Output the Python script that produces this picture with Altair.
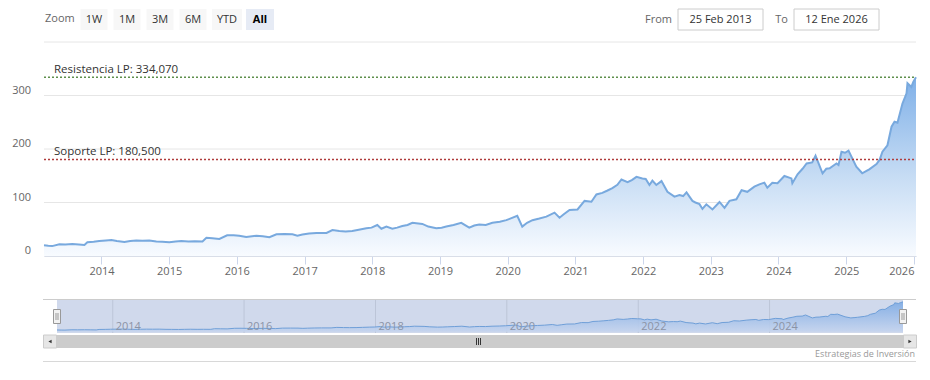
import altair as alt
import pandas as pd

# ---------------- data ----------------
dates = [
    "2013-02-25", "2013-03-20", "2013-04-10", "2013-05-19", "2013-06-20", "2013-07-28", "2013-09-01", "2013-10-01", "2013-10-17", "2013-11-20", "2013-12-20",
    "2014-01-25", "2014-02-24", "2014-03-25", "2014-05-05", "2014-06-05", "2014-07-08", "2014-08-10", "2014-09-16", "2014-10-24", "2014-11-25",
    "2015-01-02", "2015-02-05", "2015-03-08", "2015-04-15", "2015-05-20", "2015-06-30", "2015-07-21", "2015-08-22", "2015-09-29", "2015-11-10", "2015-12-15",
    "2016-01-14", "2016-02-21", "2016-04-16", "2016-05-20", "2016-06-25", "2016-08-02", "2016-09-15", "2016-10-27", "2016-11-23", "2016-12-20",
    "2017-01-25", "2017-03-06", "2017-04-29", "2017-05-31", "2017-07-07", "2017-08-10", "2017-09-15", "2017-10-20", "2017-11-30", "2017-12-28",
    "2018-01-28", "2018-02-19", "2018-03-18", "2018-04-19", "2018-05-15", "2018-06-12", "2018-07-10", "2018-08-05", "2018-09-28", "2018-10-30", "2018-12-12",
    "2019-01-10", "2019-02-04", "2019-03-15", "2019-04-26", "2019-06-08", "2019-07-05", "2019-08-01", "2019-09-05", "2019-10-11", "2019-11-20", "2019-12-25",
    "2020-02-22", "2020-03-20", "2020-04-15", "2020-05-14", "2020-06-20", "2020-07-28", "2020-09-10", "2020-10-07", "2020-10-30", "2020-11-30",
    "2021-01-12", "2021-02-19", "2021-03-28", "2021-04-24", "2021-05-26", "2021-06-20", "2021-07-19", "2021-08-15", "2021-09-06", "2021-10-09", "2021-11-01", "2021-11-26", "2021-12-28",
    "2022-01-15", "2022-02-04", "2022-02-20", "2022-03-13", "2022-04-10", "2022-05-12", "2022-06-19", "2022-07-16", "2022-08-05", "2022-08-23", "2022-09-24", "2022-10-10", "2022-11-01", "2022-11-17", "2022-12-08",
    "2023-01-10", "2023-02-17", "2023-03-16", "2023-04-12", "2023-05-19", "2023-06-16", "2023-07-17", "2023-08-24", "2023-09-20", "2023-10-17", "2023-11-02", "2023-11-29", "2023-12-27",
    "2024-02-02", "2024-03-11", "2024-03-16", "2024-04-13", "2024-05-10", "2024-06-01", "2024-07-01", "2024-07-19", "2024-08-26", "2024-09-15", "2024-10-03", "2024-11-09", "2024-11-20", "2024-12-06", "2024-12-25",
    "2025-01-13", "2025-02-24", "2025-03-28", "2025-04-15", "2025-05-05", "2025-06-13", "2025-06-30", "2025-07-15", "2025-08-11", "2025-09-02", "2025-09-18", "2025-10-04", "2025-10-31", "2025-11-22", "2025-11-27", "2025-12-18", "2025-12-29", "2026-01-12",
]
closes = [
    20, 19, 18.5, 22, 21.5, 22.4, 21.5, 20.5, 25.6, 26.5, 28,
    29, 30, 28, 26, 28, 29, 28.5, 29, 27, 26.5,
    25.6, 27, 28, 27, 27.5, 27, 34, 33, 32, 38.6, 39,
    38, 35.5, 38, 37, 35, 40.5, 41, 40.5, 38, 40,
    42, 43, 43, 48.6, 46.7, 46, 46.7, 49, 51.7, 53,
    58, 51, 55, 51, 53, 56, 58, 62, 60, 55, 51.7,
    53, 55, 58, 62, 53, 57, 59, 58, 62, 64, 67,
    75, 55, 62, 67, 70, 73.5, 81, 71.6, 78, 86,
    87, 103, 101.5, 115, 118, 122, 127, 133, 143, 138, 142, 148, 145,
    144, 132.7, 140.8, 132.7, 140, 120, 111, 114, 112, 119, 103, 100, 97, 88, 96.6,
    87, 101, 90, 103, 106, 123, 120, 129.5, 134, 137, 127.7, 137, 136,
    149.5, 145, 136, 152.7, 163, 173, 175, 187.5, 154.6, 163, 164, 173, 170, 195, 193,
    197, 167, 154.6, 158, 162, 172, 180, 195, 207, 241.7, 251, 249, 285, 304, 323, 316, 326, 334.07,
]
assert len(dates) == len(closes)

axis_years = list(range(2014, 2027))
nav_years = [2014, 2016, 2018, 2020, 2022, 2024]
y_tick_values = [0, 100, 200, 300]
y_grid_values = [0, 100, 200, 300, 400]
level_labels = ["Resistencia LP: 334,070", "Soporte LP: 180,500"]
level_values = [334.07, 180.5]
zoom_buttons = ["1W", "1M", "3M", "6M", "YTD", "All"]
selected_button = "All"
from_text = "25 Feb 2013"
to_text = "12 Ene 2026"
credit_text = "Estrategias de Inversión"

# ---------------- layout (page pixels; page margin 8) ----------------
M = 8
W, H = 914, 364


def P(v):
    return v - M


PLOT_L, PLOT_R, PLOT_T, PLOT_B = 44, 916, 42, 256
NAV_L, NAV_R, NAV_T, NAV_B = 57, 903, 299, 333
FONT = "Open Sans"


def dt(s):
    t = pd.Timestamp(s)
    return alt.DateTime(year=t.year, month=t.month, date=t.day, utc=True)


x_dom = [dt(dates[0]), dt(dates[-1])]

series = pd.DataFrame({"date": dates, "close": closes})
levels = pd.DataFrame({"label": level_labels, "value": level_values})
grid_df = pd.DataFrame({"v": y_grid_values})
ytick_df = pd.DataFrame({"v": y_tick_values, "t": [str(v) for v in y_tick_values]})
nav_df = pd.DataFrame({"date": [f"{y}-01-01" for y in nav_years], "label": [str(y) for y in nav_years]})

# ---------------- main plot ----------------
xs = alt.Scale(type="utc", domain=x_dom, range=[P(PLOT_L), P(PLOT_R)])
ys = alt.Scale(domain=[0, 400], range=[P(PLOT_B), P(PLOT_T)], nice=False, zero=False)

xaxis = alt.Axis(
    values=[alt.DateTime(year=y, month=1, date=1, utc=True) for y in axis_years],
    format="%Y", title=None, grid=False,
    domainColor="#ccd6eb", tickColor="#ccd6eb", tickSize=8, labelPadding=1,
    labelColor="#666666", labelFontSize=11, labelFont=FONT,
    labelOverlap=False, labelFlush=4, offset=P(PLOT_B) - H,
)

main_grad = alt.Gradient(
    gradient="linear",
    stops=[alt.GradientStop(color="#7fb0e8", offset=0),
           alt.GradientStop(color="#c6dcf4", offset=0.55),
           alt.GradientStop(color="#f8fbff", offset=1)],
    x1=1, x2=1, y1=0, y2=1,
)

grid = alt.Chart(grid_df).mark_rule(color="#e6e6e6", strokeWidth=1).encode(
    y=alt.Y("v:Q", scale=ys, axis=None),
    x=alt.value(P(PLOT_L)), x2=alt.value(P(PLOT_R)),
)
ylabels = alt.Chart(ytick_df).mark_text(
    align="right", baseline="middle", dy=-5, fontSize=11, font=FONT, color="#666666"
).encode(y=alt.Y("v:Q", scale=ys, axis=None), x=alt.value(P(31)), text="t:N")

area = alt.Chart(series).mark_area(color=main_grad).encode(
    x=alt.X("date:T", scale=xs, axis=xaxis),
    y=alt.Y("close:Q", scale=ys, axis=None),
)
line = alt.Chart(series).mark_line(color="#78a9de", strokeWidth=2).encode(
    x=alt.X("date:T", scale=xs, axis=xaxis),
    y=alt.Y("close:Q", scale=ys, axis=None),
)
level_rules = alt.Chart(levels).mark_rule(strokeDash=[2, 2], strokeWidth=1.5).encode(
    y=alt.Y("value:Q", scale=ys, axis=None),
    x=alt.value(P(PLOT_L)), x2=alt.value(P(PLOT_R)),
    color=alt.Color("label:N", scale=alt.Scale(domain=level_labels, range=["#5e8f4c", "#b03c3c"]), legend=None),
)
level_text = alt.Chart(levels).mark_text(
    align="left", baseline="alphabetic", dy=-4, fontSize=11.5, font=FONT, color="#333333"
).encode(y=alt.Y("value:Q", scale=ys, axis=None), x=alt.value(P(54)), text="label:N")

main_group = alt.layer(grid, area, line, level_rules, level_text, ylabels)

# ---------------- navigator ----------------
nxs = alt.Scale(type="utc", domain=x_dom, range=[P(NAV_L), P(NAV_R)])
nys = alt.Scale(domain=[-14, 366], range=[P(NAV_B), P(NAV_T)], nice=False, zero=False)

nav_grad = alt.Gradient(
    gradient="linear",
    stops=[alt.GradientStop(color="#7eabe4", offset=0),
           alt.GradientStop(color="#c5d4ee", offset=1)],
    x1=1, x2=1, y1=0, y2=1,
)
one = pd.DataFrame({"k": [0]})
nav_mask = alt.Chart(one).mark_rect(color="#d0d9ec").encode(
    x=alt.value(P(NAV_L)), x2=alt.value(P(NAV_R)), y=alt.value(P(NAV_T)), y2=alt.value(P(NAV_B)),
)
nav_grid = alt.Chart(nav_df).mark_rule(color="#bcc5d8", strokeWidth=1).encode(
    x=alt.X("date:T", scale=nxs, axis=None),
    y=alt.value(P(NAV_T)), y2=alt.value(P(NAV_B)),
)
nav_labels = alt.Chart(nav_df).mark_text(
    align="left", baseline="middle", dx=3, fontSize=11, font=FONT, color="#8b93a6"
).encode(x=alt.X("date:T", scale=nxs, axis=None), y=alt.value(P(327)), text="label:N")
nav_area = alt.Chart(series).mark_area(color=nav_grad, opacity=0.9).encode(
    x=alt.X("date:T", scale=nxs, axis=None),
    y=alt.Y("close:Q", scale=nys, axis=None),
    y2=alt.value(P(NAV_B)),
)
nav_line = alt.Chart(series).mark_line(color="#6f9fd8", strokeWidth=1).encode(
    x=alt.X("date:T", scale=nxs, axis=None),
    y=alt.Y("close:Q", scale=nys, axis=None),
)
nav_group = alt.layer(nav_mask, nav_grid, nav_area, nav_line, nav_labels)


# ---------------- chrome (pixel placed UI of the stock widget) ----------------
def rects(rows, **mark):
    df = pd.DataFrame(rows, columns=["x0", "x1", "y0", "y1"])
    for c in df.columns:
        df[c] = df[c] - M
    return alt.Chart(df).mark_rect(**mark).encode(
        x=alt.X("x0:Q", scale=None, axis=None), x2="x1:Q",
        y=alt.Y("y0:Q", scale=None, axis=None), y2="y1:Q",
    )


def segs(rows, **mark):
    df = pd.DataFrame(rows, columns=["x0", "x1", "y0", "y1"])
    for c in df.columns:
        df[c] = df[c] - M
    return alt.Chart(df).mark_rule(**mark).encode(
        x=alt.X("x0:Q", scale=None, axis=None), x2="x1:Q",
        y=alt.Y("y0:Q", scale=None, axis=None), y2="y1:Q",
    )


def texts(rows, **mark):
    df = pd.DataFrame(rows, columns=["x", "y", "text"])
    df["x"] = df["x"] - M
    df["y"] = df["y"] - M
    return alt.Chart(df).mark_text(font=FONT, **mark).encode(
        x=alt.X("x:Q", scale=None, axis=None),
        y=alt.Y("y:Q", scale=None, axis=None),
        text="text:N",
    )


btn_centers = [94, 127, 160, 193, 227, 260]
btn_widths = [27, 27, 27, 27, 30, 28]
btn_rows = [(c - w / 2, c + w / 2, 9, 30) for c, w in zip(btn_centers, btn_widths)]
sel_i = zoom_buttons.index(selected_button)

chrome = [
    texts([(45, 19, "Zoom")], align="left", baseline="middle", fontSize=11, color="#666666"),
    rects([r for i, r in enumerate(btn_rows) if i != sel_i], color="#f7f7f7"),
    rects([btn_rows[sel_i]], color="#e6ebf5"),
    texts([(c, 19.5, b) for i, (c, b) in enumerate(zip(btn_centers, zoom_buttons)) if i != sel_i],
          align="center", baseline="middle", fontSize=11, color="#333333"),
    texts([(btn_centers[sel_i], 19.5, selected_button)], align="center", baseline="middle",
          fontSize=11, color="#000000", fontWeight="bold"),
    texts([(672, 19.5, "From"), (788, 19.5, "To")], align="right", baseline="middle", fontSize=11, color="#666666"),
    rects([(678, 763, 9, 30), (794, 879, 9, 30)], fill="#ffffff", stroke="#cccccc", strokeWidth=1),
    texts([(720.5, 19.5, from_text), (836.5, 19.5, to_text)], align="center", baseline="middle",
          fontSize=11, color="#333333"),
    # navigator outline
    segs([(43, 916, 299.5, 299.5)], color="#cccccc", strokeWidth=1),
    # handles
    rects([(53.5, 60.5, 309.5, 323.5), (899.5, 906.5, 309.5, 323.5)], fill="#f2f2f2", stroke="#999999", strokeWidth=1),
    segs([(56, 56, 313, 320), (58, 58, 313, 320), (902, 902, 313, 320), (904, 904, 313, 320)],
         color="#999999", strokeWidth=1),
    # scrollbar
    rects([(NAV_L, NAV_R, 335, 348)], color="#cccccc"),
    rects([(43.5, 56.5, 335, 348), (903.5, 916.5, 335, 348)], fill="#e6e6e6", stroke="#cccccc", strokeWidth=1),
    segs([(476.5, 476.5, 338, 345), (478.5, 478.5, 338, 345), (480.5, 480.5, 338, 345)], color="#333333", strokeWidth=1),
    # bottom line + credit
    segs([(43, 916, 361.5, 361.5)], color="#d8d8d8", strokeWidth=1),
    texts([(915, 354, credit_text)], align="right", baseline="middle", fontSize=9, color="#999999"),
]

arrows_df = pd.DataFrame({"x": [50 - M, 910 - M], "y": [341.5 - M, 341.5 - M], "s": ["triangle-left", "triangle-right"]})
arrows = alt.Chart(arrows_df).mark_point(filled=True, size=14, color="#333333", opacity=1).encode(
    x=alt.X("x:Q", scale=None, axis=None),
    y=alt.Y("y:Q", scale=None, axis=None),
    shape=alt.Shape("s:N", scale=None),
)

chart = alt.layer(main_group, nav_group, *chrome, arrows).resolve_scale(
    x="independent", y="independent"
).properties(
    width=W, height=H, padding=0, background="#ffffff",
    autosize=alt.AutoSizeParams(type="none"),
).configure_view(strokeWidth=0)

chart.save("out.html", embed_options={"renderer": "svg", "actions": False})
